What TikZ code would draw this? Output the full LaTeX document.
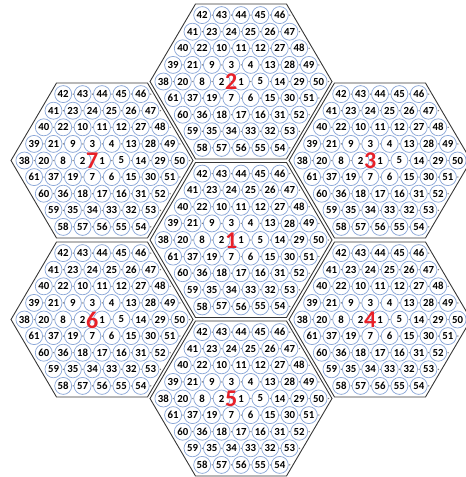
\documentclass[tikz,border=0pt]{standalone}
\usepackage{fontspec}
\setmainfont{Carlito}

\definecolor{azulcelda}{RGB}{140,168,216}
\definecolor{grispunto}{RGB}{120,120,120}
\definecolor{rojoetiq}{RGB}{232,32,40}
\definecolor{grisborde}{RGB}{55,55,55}

% numeracion en espiral, fila por fila (de arriba abajo)
\newcommand{\filas}{{42,43,44,45,46},{41,23,24,25,26,47},{40,22,10,11,12,27,48},%
  {39,21,9,3,4,13,28,49},{38,20,8,2,1,5,14,29,50},{61,37,19,7,6,15,30,51},%
  {60,36,18,17,16,31,52},{59,35,34,33,32,53},{58,57,56,55,54}}

% un panal: hexagono, 61 celdas y su etiqueta
\newcommand{\panal}[3]{%
  \begin{scope}[shift={(#2,#3)}]
    \draw[hexa] (91,0) -- (45.5,77.5) -- (-45.5,77.5) -- (-91,0)
                -- (-45.5,-77.5) -- (45.5,-77.5) -- cycle;
    \foreach \fila [count=\r] in \filas {
      \pgfmathsetmacro{\n}{9-abs(\r-5)}
      \foreach \num [count=\c] in \fila {
        \node[celda] (h#1-\num) at ({(\c-1-(\n-1)/2)*19.4},{(\r-5)*16.6}) {\num};
        \fill[punto] ([xshift=1.1pt]h#1-\num.east) circle (0.75);
      }
    }
    \node[etiq] (e#1) at (-9.7,0.5) {#1};
  \end{scope}}

\begin{document}
\begin{tikzpicture}[
    x=1pt, y=-1pt,
    hexa/.style={draw=grisborde, line width=0.9pt, line join=miter},
    celda/.style={circle, draw=azulcelda, line width=0.75pt, minimum size=17pt,
                  inner sep=0pt, font=\bfseries\fontsize{10.8}{10.8}\selectfont},
    punto/.style={fill=grispunto},
    etiq/.style={text=rojoetiq, font=\bfseries\fontsize{24}{24}\selectfont,
                 inner sep=0pt}
  ]

  \clip (0,0) rectangle (466,477);

  % --- panal central ---
  \panal{1}{241}{240}

  % --- anillo de seis panales ---
  \panal{2}{241}{81.5}
  \panal{3}{380}{160.5}
  \panal{4}{380}{319.5}
  \panal{5}{241}{398.5}
  \panal{6}{102}{319.5}
  \panal{7}{102}{160.5}

\end{tikzpicture}
\end{document}
